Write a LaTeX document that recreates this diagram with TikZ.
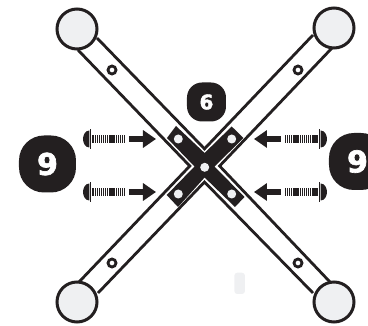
\documentclass[tikz,border=0pt]{standalone}
\usepackage{fontspec}
\setmainfont{DejaVu Sans}[BoldFeatures={FakeBold=2.2}]
\usepackage{xcolor}
\usetikzlibrary{arrows.meta}
\definecolor{inkblack}{HTML}{231F20}
\definecolor{palegrey}{HTML}{EFF0F2}
\tikzset{
    badge/.style={fill=inkblack, text=white, inner sep=0pt, font=\bfseries},
    barline/.style={draw=inkblack, line width=2.8pt},
    endcircle/.style={draw=inkblack, fill=palegrey, line width=3pt},
    ringhole/.style={draw=inkblack, fill=white, line width=2.8pt},
    platehole/.style={fill=palegrey},
    pusharrow/.style={draw=inkblack, line width=6pt, -{Triangle[length=13pt,width=17pt]}},
    bolt/.pic={
        \fill[inkblack] (0,-8.5) .. controls (-4,-8.5) and (-6.3,-4) .. (-6.3,0)
            .. controls (-6.3,4) and (-4,8.5) .. (0,8.5) -- cycle;
        \fill[inkblack] (0.7,-10) rectangle (2,10);
        \fill[inkblack] (2.5,-4.2) rectangle (5.2,4.2);
        \foreach \t in {6,7.9,...,35.5} {
            \fill[inkblack] (\t,-4.2) rectangle (\t+1.2,4.2);
        }
    }
}
\begin{document}
\begin{tikzpicture}[x=1pt, y=-1pt, >=latex]
    \useasboundingbox (0,0) rectangle (368,326);
    % 1. Notches and bar edges
    \coordinate (notchT) at (204.5,148.8);
    \coordinate (notchL) at (189.8,166);
    \coordinate (notchR) at (219.6,166);
    \coordinate (notchB) at (204.5,182);
    \draw[barline, line join=miter] (97,38) -- (notchT) -- (313,35);
    \draw[barline, line join=miter] (78,50) -- (notchL) -- (79,282);
    \draw[barline, line join=miter] (332,48) -- (notchR) -- (330,282);
    \draw[barline, line join=miter] (98,293) -- (notchB) -- (313,293);

    % 2. Plate
    \fill[inkblack] (176,126) -- (204.6,153) -- (231.7,126.5) -- (243.5,138)
        -- (214.5,166.5) -- (244.5,197) -- (235,207) -- (204.6,177.5) -- (178,207)
        -- (166.7,195) -- (194.5,166.5) -- (167,138) -- cycle;
    \foreach \px/\py [count=\i] in {178.3/139, 231.7/139, 178.3/194, 231.7/194, 204.7/167.3} {
        \node[platehole, circle, minimum size=9pt, inner sep=0pt] (hole\i) at (\px,\py) {};
    }

    % 3. Rings on the bars
    \foreach \px/\py [count=\i] in {112/70, 298/70, 112/263, 298/263} {
        \node[ringhole, circle, minimum size=8pt, inner sep=0pt] (ring\i) at (\px,\py) {};
    }

    % 4. End circles
    \node[endcircle, circle, minimum size=40pt, inner sep=0pt] (endTL) at (77,29) {};
    \node[endcircle, circle, minimum size=40pt, inner sep=0pt] (endTR) at (334,28) {};
    \node[endcircle, circle, minimum size=40pt, inner sep=0pt] (endBL) at (77,302) {};
    \node[endcircle, circle, minimum size=40pt, inner sep=0pt] (endBR) at (334,302) {};

    % 5. Bolts and arrows
    \pic at (89.3,139) {bolt};
    \pic at (89.3,192) {bolt};
    \pic[xscale=-1] at (320.7,139) {bolt};
    \pic[xscale=-1] at (320.7,192) {bolt};
    \coordinate (arrowA) at (129,139);
    \coordinate (tipA) at (156,139);
    \coordinate (arrowB) at (129,192);
    \coordinate (tipB) at (156,192);
    \coordinate (arrowC) at (281,139);
    \coordinate (tipC) at (254,139);
    \coordinate (arrowD) at (281,192);
    \coordinate (tipD) at (254,192);
    \draw[pusharrow] (arrowA) -- (tipA);
    \draw[pusharrow] (arrowB) -- (tipB);
    \draw[pusharrow] (arrowC) -- (tipC);
    \draw[pusharrow] (arrowD) -- (tipD);

    % 6. Badges
    \node[badge, minimum size=57pt, rounded corners=25pt] (nineL) at (47.5,164) {\fontsize{30}{30}\selectfont 9};
    \node[badge, minimum size=57pt, rounded corners=25pt] (nineR) at (357.5,161.5) {\fontsize{30}{30}\selectfont 9};
    \node[badge, minimum size=39pt, rounded corners=15pt] (six) at (206.5,102) {\fontsize{20}{20}\selectfont 6};

    % 7. Faint mark
    \fill[palegrey, rounded corners=3pt] (234.3,272.7) rectangle (245,294);
\end{tikzpicture}
\end{document}
